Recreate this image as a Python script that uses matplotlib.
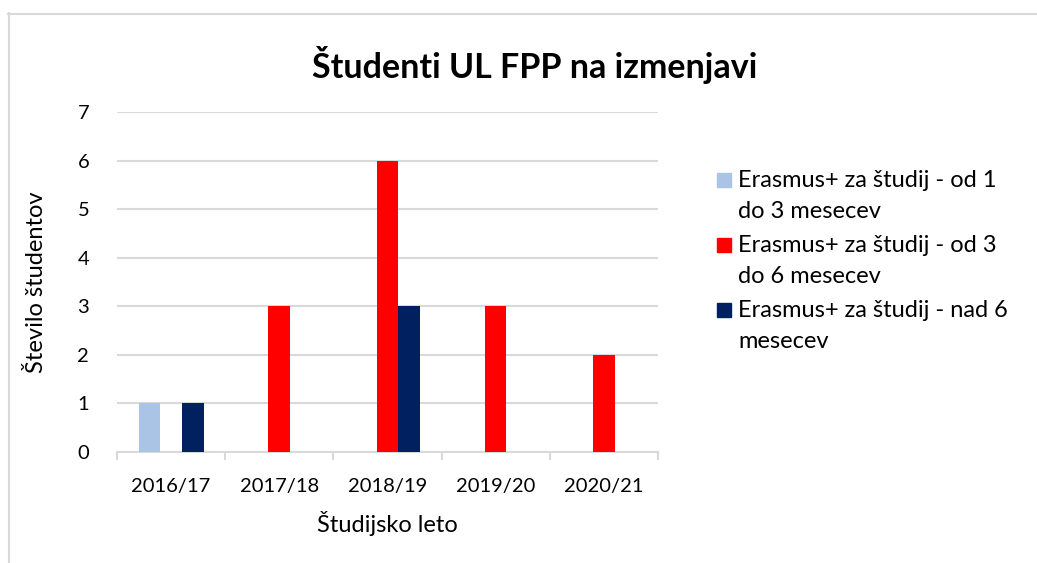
import matplotlib
matplotlib.use("Agg")
import matplotlib.pyplot as plt
from matplotlib.patches import Rectangle
from matplotlib.lines import Line2D
import numpy as np

plt.rcParams['font.family'] = ['Lato', 'DejaVu Sans']

leta = ["2016/17", "2017/18", "2018/19", "2019/20", "2020/21"]
serije = ["Erasmus+ za študij - od 1\ndo 3 mesecev",
          "Erasmus+ za študij - od 3\ndo 6 mesecev",
          "Erasmus+ za študij - nad 6\nmesecev"]
od1do3 = [1, 0, 0, 0, 0]
od3do6 = [0, 3, 6, 3, 2]
nad6 = [1, 0, 3, 0, 0]
barve = ["#a9c4e5", "#ff0000", "#002060"]

fig = plt.figure(figsize=(10.37, 5.63), dpi=100)
ax = fig.add_axes([0.1128, 0.1972, 0.5217, 0.6039])

x = np.arange(len(leta))
w = 0.2
for i, (vals, c) in enumerate(zip([od1do3, od3do6, nad6], barve)):
    ax.bar(x + (i - 1) * w, vals, width=w, color=c, zorder=3)

ax.set_xlim(-0.5, len(leta) - 0.5)
ax.set_ylim(0, 7)
ax.set_yticks(range(0, 8))
ax.grid(axis='y', color='#d9d9d9', linewidth=1.5, zorder=0)
for s in ['top', 'right', 'left']:
    ax.spines[s].set_visible(False)
ax.spines['bottom'].set_color('#d9d9d9')
ax.spines['bottom'].set_linewidth(1.5)
ax.set_xticks(x)
ax.set_xticklabels(leta)
ax.set_xticks(np.arange(-0.5, len(leta)), minor=True)
ax.tick_params(axis='x', which='major', length=0, labelsize=14.5, pad=19)
ax.tick_params(axis='x', which='minor', length=6, width=1.5, color='#d9d9d9')
ax.tick_params(axis='y', length=0, labelsize=14.5, pad=20)

ax.set_xlabel("Študijsko leto", fontsize=17, labelpad=11)
ax.set_ylabel("Število študentov", fontsize=17, labelpad=22)
fig.text(0.516, 0.884, "Študenti UL FPP na izmenjavi", fontsize=24.5,
         fontweight='bold', ha='center', va='center')

# legenda
W, H = 1037, 563
for i, (lab, c) in enumerate(zip(serije, barve)):
    top = 173 + i * 65
    fig.patches.append(Rectangle((717 / W, 1 - (top + 14) / H), 14 / W, 14 / H,
                                 transform=fig.transFigure, color=c))
    fig.text(738 / W, 1 - (top - 3) / H, lab, fontsize=17, va='top',
             ha='left', linespacing=1.6)

# okvir
fig.add_artist(Line2D([8.5 / W, 8.5 / W], [0, 1 - 13 / H], color='#d9d9d9', lw=1.5))
fig.add_artist(Line2D([8 / W, 1], [1 - 13.5 / H, 1 - 13.5 / H], color='#d9d9d9', lw=1.5))

fig.savefig("out.png", dpi=100, facecolor='white')
